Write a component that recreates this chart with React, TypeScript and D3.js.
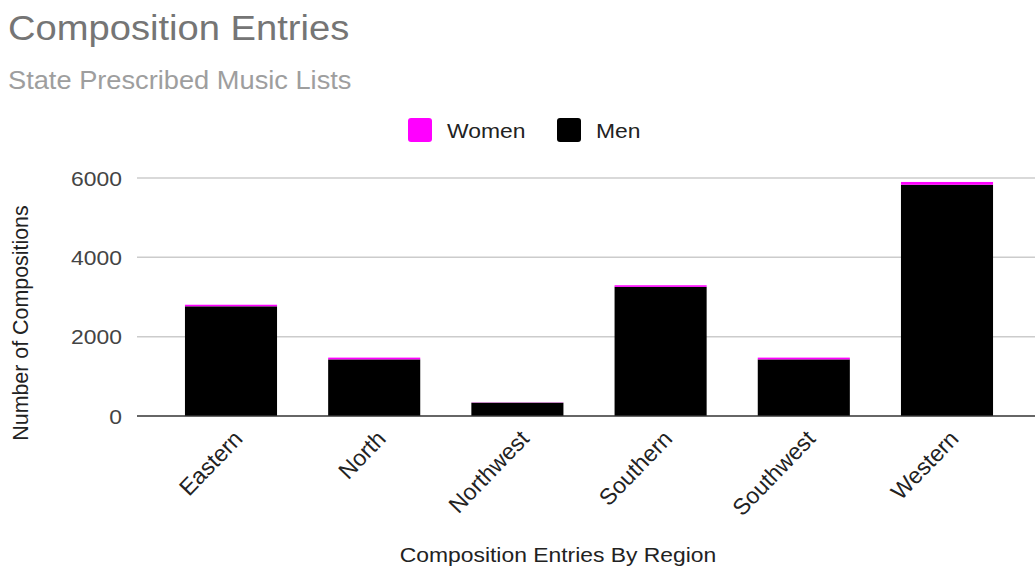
import React from "react";
import * as d3 from "d3";

// Composition entries per region, split by composer gender
const regions = ["Eastern", "North", "Northwest", "Southern", "Southwest", "Western"];
const menCounts = [2765, 1427, 335, 3256, 1427, 5830];
const womenCounts = [40, 45, 6, 40, 45, 70];
const yTicks = [0, 2000, 4000, 6000];

const seriesNames = ["Women", "Men"];
const seriesColors = ["#ff00ff", "#000000"];

const W = 1035;
const H = 571;
const FONT = "Arial, 'Liberation Sans', sans-serif";
const SX = 1.09; // horizontal text stretch

export default function App() {
  const plotLeft = 137;
  const plotRight = 1035;
  const y = d3.scaleLinear().domain([0, 6000]).range([416, 178]);
  const x = d3
    .scaleBand<string>()
    .domain(regions)
    .range([159.4, 1018.6])
    .paddingInner(0.357)
    .paddingOuter(0.1785);

  const rows = regions.map((r, i) => ({ region: r, Men: menCounts[i], Women: womenCounts[i] }));
  const stacked = d3.stack<any>().keys(["Men", "Women"])(rows);
  const colorOf: Record<string, string> = { Women: seriesColors[0], Men: seriesColors[1] };

  return (
    <svg width={W} height={H} style={{ display: "block", position: "absolute", left: 0, top: 0 }} fontFamily={FONT}>
      <rect width={W} height={H} fill="#fff" />
      <text transform={`translate(8,40) scale(${SX},1)`} fontSize={35} fill="#757575">
        Composition Entries
      </text>
      <text transform={`translate(8,89) scale(${SX},1)`} fontSize={25} fill="#9e9e9e">
        State Prescribed Music Lists
      </text>

      {/* legend */}
      {seriesNames.map((name, i) => {
        const lx = i === 0 ? 408 : 557;
        return (
          <g key={name}>
            <rect x={lx} y={118} width={24} height={24} rx={3} fill={seriesColors[i]} />
            <text transform={`translate(${lx + 39},138) scale(${SX},1)`} fontSize={21} fill="#222">
              {name}
            </text>
          </g>
        );
      })}

      {/* gridlines and y ticks */}
      {yTicks.map((t) => (
        <g key={t}>
          {t !== 0 && (
            <line x1={plotLeft} x2={plotRight} y1={y(t)} y2={y(t)} stroke="#cccccc" strokeWidth={1.5} />
          )}
          <text
            transform={`translate(122,${y(t) + 7.5}) scale(${SX},1)`}
            textAnchor="end"
            fontSize={21}
            fill="#444"
          >
            {t}
          </text>
        </g>
      ))}

      {/* stacked bars */}
      {stacked.map((layer) => (
        <g key={layer.key} fill={colorOf[layer.key]}>
          {layer.map((d, i) => (
            <rect
              key={regions[i]}
              x={x(regions[i])}
              width={x.bandwidth()}
              y={y(d[1])}
              height={Math.max(0, y(d[0]) - y(d[1]))}
            />
          ))}
        </g>
      ))}

      {/* baseline */}
      <line x1={plotLeft} x2={plotRight} y1={y(0)} y2={y(0)} stroke="#333" strokeWidth={1.5} />

      {/* x tick labels */}
      {regions.map((r) => {
        const cx = (x(r) as number) + x.bandwidth() / 2;
        return (
          <text
            key={r}
            transform={`translate(${cx + 13},440) rotate(-46)`}
            textAnchor="end"
            fontSize={23}
            fill="#222"
          >
            {r}
          </text>
        );
      })}

      {/* axis titles */}
      <text
        transform={`translate(558,562) scale(${SX},1)`}
        textAnchor="middle"
        fontSize={21}
        fill="#222"
      >
        Composition Entries By Region
      </text>
      <text
        transform={`translate(28,323) rotate(-90)`}
        textAnchor="middle"
        fontSize={21.4}
        fill="#222"
      >
        Number of Compositions
      </text>
    </svg>
  );
}
